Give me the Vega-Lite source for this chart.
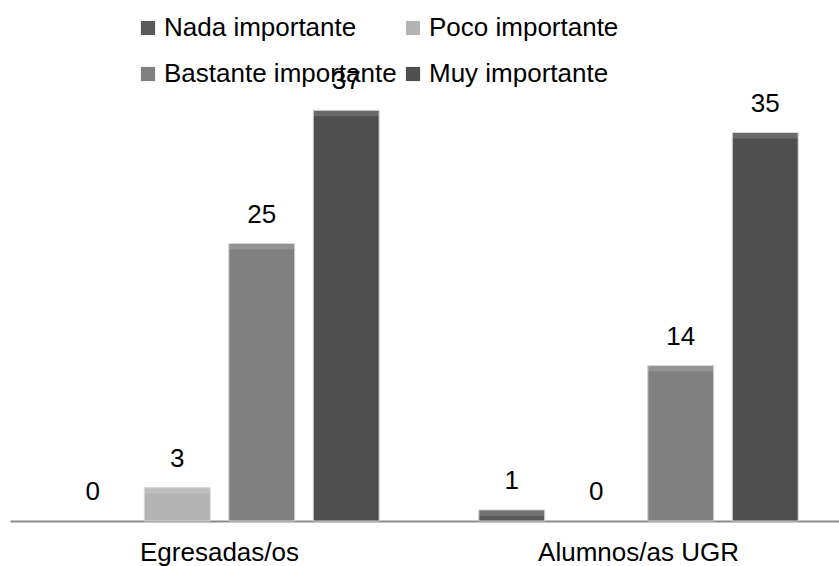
{
  "$schema": "https://vega.github.io/schema/vega-lite/v6.json",
  "autosize": "none",
  "width": 829,
  "height": 444,
  "padding": {"left": 10, "top": 77, "right": 0, "bottom": 45},
  "background": "white",
  "config": {
    "font": "Liberation Sans",
    "view": {"stroke": null}
  },
  "data": {
    "values": [
      {"grupo": "Egresadas/os", "nivel": "Nada importante", "valor": 0},
      {"grupo": "Egresadas/os", "nivel": "Poco importante", "valor": 3},
      {"grupo": "Egresadas/os", "nivel": "Bastante importante", "valor": 25},
      {"grupo": "Egresadas/os", "nivel": "Muy importante", "valor": 37},
      {"grupo": "Alumnos/as UGR", "nivel": "Nada importante", "valor": 1},
      {"grupo": "Alumnos/as UGR", "nivel": "Poco importante", "valor": 0},
      {"grupo": "Alumnos/as UGR", "nivel": "Bastante importante", "valor": 14},
      {"grupo": "Alumnos/as UGR", "nivel": "Muy importante", "valor": 35}
    ]
  },
  "encoding": {
    "x": {
      "field": "grupo",
      "type": "nominal",
      "sort": ["Egresadas/os", "Alumnos/as UGR"],
      "scale": {"range": [0, 838], "paddingInner": 0, "paddingOuter": 0},
      "axis": {
        "title": null,
        "labelAngle": 0,
        "labelFontSize": 26,
        "labelColor": "#000000",
        "labelPadding": 18,
        "labelLimit": 400,
        "ticks": false,
        "domainColor": "#8c8c8c",
        "domainWidth": 2
      }
    },
    "xOffset": {
      "field": "nivel",
      "type": "nominal",
      "sort": ["Nada importante", "Poco importante", "Bastante importante", "Muy importante"],
      "scale": {"paddingInner": 0.22, "paddingOuter": 0.59}
    },
    "y": {
      "field": "valor",
      "type": "quantitative",
      "scale": {"domain": [0, 40], "nice": false},
      "axis": null
    }
  },
  "layer": [
    {
      "transform": [{"filter": "datum.valor > 0"}],
      "mark": {"type": "bar", "stroke": "#d4d4d4", "strokeWidth": 1},
      "encoding": {
        "color": {
          "field": "nivel",
          "type": "nominal",
          "sort": ["Nada importante", "Poco importante", "Bastante importante", "Muy importante"],
          "scale": {
            "domain": ["Nada importante", "Poco importante", "Bastante importante", "Muy importante"],
            "range": ["#595959", "#b3b3b3", "#808080", "#4f4f4f"]
          },
          "legend": {
            "title": null,
            "orient": "none",
            "legendX": 125,
            "legendY": -62,
            "direction": "horizontal",
            "columns": 2,
            "columnPadding": 3,
            "rowPadding": 20,
            "symbolType": "square",
            "symbolSize": 200,
            "symbolStrokeWidth": 0,
            "symbolOpacity": 1,
            "labelFontSize": 26,
            "labelColor": "#000000",
            "labelOffset": 3,
            "labelLimit": 400
          }
        }
      }
    },
    {
      "transform": [{"filter": "datum.valor > 0"}],
      "mark": {"type": "bar", "fill": "#ffffff", "opacity": 0.15, "y2Offset": 6},
      "encoding": {
        "y2": {"field": "valor"}
      }
    },
    {
      "mark": {"type": "text", "baseline": "bottom", "dy": -16, "fontSize": 26, "color": "#000000"},
      "encoding": {
        "text": {"field": "valor", "type": "quantitative"}
      }
    }
  ]
}
